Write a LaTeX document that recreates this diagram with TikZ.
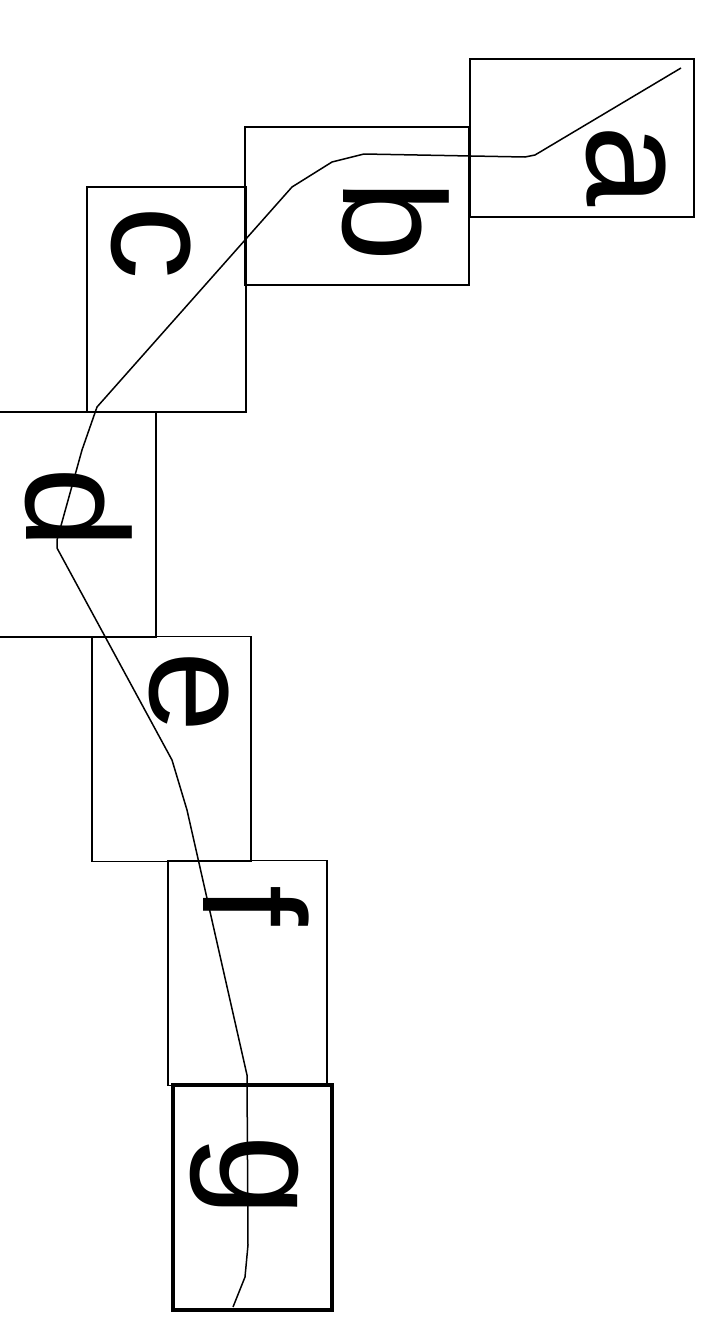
\documentclass[tikz,border=0pt]{standalone}
\usepackage{fontspec}
\setmainfont{Liberation Sans}
\usetikzlibrary{positioning}

\begin{document}
\begin{tikzpicture}[
    x=1pt, y=-1pt,
    box/.style={draw, rectangle, inner sep=0pt, line width=1.2pt},
    wide/.style={box, minimum width=224, minimum height=158},
    tall/.style={box, minimum width=159, minimum height=225},
    letter/.style={rotate=-90, inner sep=0pt, anchor=base west,
        font=\fontsize{146}{146}\selectfont}
]
\useasboundingbox (0,0) rectangle (717,1320);
\clip (0,0) rectangle (717,1320);

% Boxes, top right to bottom
\node[wide] (boxa) at (582,138) {};
\node[wide] (boxb) at (357,206) {};
\node[tall] (boxc) at (166.5,299.5) {};
\node[tall] (boxd) at (76.5,524.5) {};
\node[tall] (boxe) at (171.5,749) {};
\node[tall] (boxf) at (247.5,973) {};
\node[tall, line width=3.5pt] (boxg) at (252.5,1197.5) {};

% Letters
\node[letter] (la) at (587,125) {a};
\node[letter] (lb) at (343,180) {b};
\node[letter] (lc) at (112,206) {c};
\node[letter] (ld) at (27,467) {d};
\node[letter] (le) at (150,651) {e};
\node[letter] (lf) at (203,885) {f};
\node[letter] (lg) at (220,1135) {g};

% Path through the boxes
\draw[line width=1.5pt, line join=round]
    (681,68) -- (535,155) -- (525,157) -- (364,154) -- (332,162)
    -- (292,187) -- (97,407) -- (82,450) -- (57,540) -- (57,548)
    -- (172,760) -- (187,810) -- (247,1075) -- (248,1245)
    -- (245,1277) -- (233,1307);

\end{tikzpicture}
\end{document}
